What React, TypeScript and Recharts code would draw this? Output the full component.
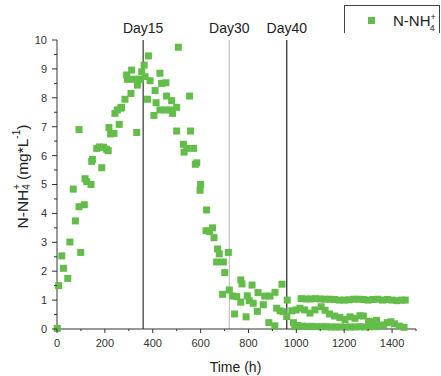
import React from 'react'
import { ScatterChart, Scatter, XAxis, YAxis, ReferenceLine, Label } from 'recharts'

// N-NH4+ readings, [time (h), mg/L], grouped by phase
const phase1 = [
  [1, 0.02], [7, 1.5], [20, 2.53], [27, 2.1], [45, 1.75], [54, 3.01], [68, 4.84], [77, 3.74],
  [92, 6.9], [92, 4.23], [99, 2.65], [114, 4.3], [117, 5.2], [124, 5.1], [142, 5.0], [145, 5.8],
  [148, 5.87], [166, 6.25], [177, 6.3], [187, 5.58], [194, 6.29], [207, 6.22], [214, 6.17],
  [217, 6.97], [224, 6.75], [238, 6.77], [242, 7.46], [252, 7.58], [260, 7.08], [266, 7.64],
  [270, 7.67], [284, 7.95], [291, 8.79], [294, 8.64], [309, 8.15], [312, 8.96], [319, 8.64],
  [333, 8.64], [333, 6.8], [336, 8.44], [347, 8.64], [354, 8.9],
]
const phase2 = [
  [364, 9.13], [368, 8.73], [378, 7.95], [382, 9.45], [389, 8.59], [405, 7.39], [410, 8.25],
  [414, 7.83], [430, 8.85], [430, 7.58], [437, 8.5], [451, 7.58], [455, 8.52], [458, 8.06],
  [475, 7.58], [479, 7.9], [483, 7.46], [500, 7.67], [500, 6.85], [507, 9.75], [528, 6.39],
  [531, 6.12], [542, 6.25], [554, 8.06], [558, 6.85], [571, 6.25], [578, 5.7], [584, 5.75],
  [600, 5.0], [598, 4.8], [625, 4.12], [623, 3.4], [637, 3.37], [650, 3.5], [656, 3.16],
  [667, 2.32], [671, 2.77], [678, 2.6], [692, 1.2], [695, 2.32], [701, 1.95], [716, 2.65],
]
const phase3 = [
  [720, 1.35], [734, 1.14], [742, 0.52], [751, 1.12], [768, 1.7], [768, 0.93], [773, 1.56],
  [790, 0.42], [795, 1.15], [803, 0.98], [815, 1.52], [820, 0.89], [837, 0.61], [840, 1.26],
  [862, 0.84], [868, 1.14], [885, 0.22], [890, 1.14], [910, 0.11], [911, 1.27], [918, 0.72],
  [932, 0.63], [940, 1.55], [945, 0.6],
]
const phase4 = [
  [962, 1.0], [960, 0.43], [981, 0.63], [988, 0.22], [994, 0.08], [999, 0.66],
]
const upperBand = [
  [1020, 1.05], [1040, 1.04], [1060, 1.04], [1080, 1.05], [1100, 1.04], [1120, 1.03],
  [1140, 1.03], [1160, 1.02], [1180, 1.0], [1200, 1.0], [1220, 1.01], [1240, 1.03],
  [1260, 1.03], [1280, 1.02], [1300, 1.0], [1320, 1.02], [1340, 1.03], [1360, 1.0],
  [1380, 1.02], [1400, 1.0], [1420, 0.98], [1440, 1.0], [1455, 1.0],
]
const middleBand = [
  [1015, 0.72], [1035, 0.66], [1057, 0.55], [1078, 0.66], [1104, 0.77], [1120, 0.65],
  [1138, 0.52], [1160, 0.45], [1182, 0.4], [1203, 0.33], [1224, 0.42], [1245, 0.37],
  [1266, 0.46], [1280, 0.45], [1302, 0.27], [1320, 0.25], [1335, 0.3],
]
const lowerBand = [
  [1005, 0.12], [1025, 0.1], [1045, 0.09], [1065, 0.09], [1085, 0.08], [1105, 0.08],
  [1125, 0.08], [1145, 0.07], [1165, 0.07], [1185, 0.07], [1205, 0.07], [1225, 0.07],
  [1245, 0.07], [1265, 0.08], [1285, 0.07], [1305, 0.08], [1325, 0.08], [1345, 0.1],
  [1365, 0.14], [1380, 0.22], [1395, 0.25], [1410, 0.18], [1430, 0.1], [1450, 0.06],
]

const xTicks = [0, 100, 200, 300, 400, 500, 600, 700, 800, 900, 1000, 1100, 1200, 1300, 1400, 1500]
const yTicks = [0, 0.5, 1, 1.5, 2, 2.5, 3, 3.5, 4, 4.5, 5, 5.5, 6, 6.5, 7, 7.5, 8, 8.5, 9, 9.5, 10]
const markers = [
  { x: 360, label: 'Day15', color: '#333' },
  { x: 720, label: 'Day30', color: '#c4c4c4' },
  { x: 960, label: 'Day40', color: '#222' },
]

const GREEN = '#64bd4a'
const FONT = "'Liberation Sans', Arial, sans-serif"

const data = [...phase1, ...phase2, ...phase3, ...phase4, ...upperBand, ...middleBand, ...lowerBand]
  .map(([h, v]) => ({ h, v }))

const SquareDot = (props: any) => {
  const { cx, cy } = props
  return <rect x={cx - 3.5} y={cy - 3.5} width={7} height={7} fill={GREEN} />
}

const XTick = (props: any) => {
  const { x, y, payload } = props
  const axisY = y - 10
  const major = payload.value % 200 === 0
  return (
    <g>
      <line x1={x} x2={x} y1={axisY} y2={axisY + (major ? 4 : 2)} stroke="#333" />
      {major && (
        <text x={x} y={y} dy="0.75em" textAnchor="middle" fontSize={11} fill="#333">
          {payload.value}
        </text>
      )}
    </g>
  )
}

const YTick = (props: any) => {
  const { x, y, payload } = props
  const axisX = x + 10
  const major = Number.isInteger(payload.value)
  return (
    <g>
      <line x1={axisX - (major ? 5 : 3)} x2={axisX} y1={y} y2={y} stroke="#333" />
      {major && (
        <text x={x} y={y} dy="0.36em" textAnchor="end" fontSize={11} fill="#333">
          {payload.value}
        </text>
      )}
    </g>
  )
}

export default function App() {
  return (
    <div style={{ position: 'absolute', left: 0, top: 0, width: 441, height: 376, fontFamily: FONT, background: '#fff' }}>
      <ScatterChart width={441} height={376} margin={{ top: 40, right: 25, bottom: 0, left: 20 }}>
        <XAxis
          type="number"
          dataKey="h"
          domain={[0, 1500]}
          ticks={xTicks}
          interval={0}
          height={47}
          tickSize={4}
          tickMargin={6}
          tickLine={false}
          tick={<XTick />}
          axisLine={{ stroke: '#333' }}
        >
          <Label
            content={({ viewBox }: any) => (
              <text x={viewBox.x + viewBox.width / 2 - 1} y={viewBox.y + 43} textAnchor="middle" fontSize={14} fill="#222">
                Time (h)
              </text>
            )}
          />
        </XAxis>
        <YAxis
          type="number"
          dataKey="v"
          domain={[0, 10]}
          ticks={yTicks}
          interval={0}
          width={37}
          tickSize={5}
          tickMargin={5}
          tickLine={false}
          tick={<YTick />}
          axisLine={{ stroke: '#333' }}
        >
          <Label
            content={({ viewBox }: any) => {
              const cx = viewBox.x + 2
              const cy = viewBox.y + viewBox.height / 2 - 8
              return (
                <text x={cx} y={cy} transform={`rotate(-90 ${cx} ${cy})`} textAnchor="middle" dominantBaseline="central" fontSize={15.5} fill="#222">
                  N-NH
                  <tspan fontSize={10} dy={-6}>+</tspan>
                  <tspan fontSize={10} dx={-6} dy={10}>4</tspan>
                  <tspan dy={-4}> (mg*L</tspan>
                  <tspan fontSize={10} dy={-6}>-1</tspan>
                  <tspan dy={6}>)</tspan>
                </text>
              )
            }}
          />
        </YAxis>
        {markers.map((m) => (
          <ReferenceLine
            key={m.label}
            x={m.x}
            stroke={m.color}
            strokeWidth={1.2}
            label={{ value: m.label, position: 'top', offset: 7, fontSize: 14, fill: '#222' }}
          />
        ))}
        <Scatter data={data} fill={GREEN} shape={<SquareDot />} isAnimationActive={false} />
      </ScatterChart>
      <div
        style={{
          position: 'absolute', left: 344, top: 5, width: 94, height: 27,
          borderTop: '1px solid #444', borderLeft: '1px solid #444', borderRight: '1px solid #444',
        }}
      >
        <svg width={94} height={27}>
          <rect x={23} y={11} width={7} height={7} fill={GREEN} />
          <text x={48} y={20} fontSize={15} fill="#222" fontFamily={FONT}>
            N-NH
            <tspan fontSize={9} dy={-6}>+</tspan>
            <tspan fontSize={9} dx={-6} dy={11}>4</tspan>
          </text>
        </svg>
      </div>
    </div>
  )
}
